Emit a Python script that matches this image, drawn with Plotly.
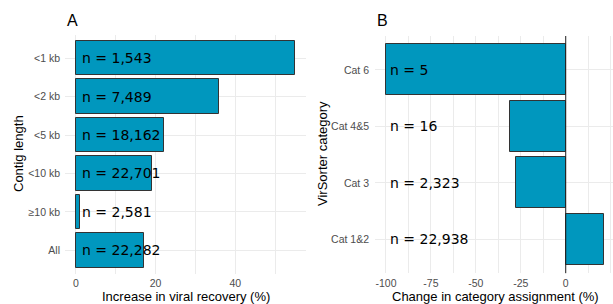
import plotly.graph_objects as go

# Panel A data
len_cats = ["<1 kb", "<2 kb", "<5 kb", "<10 kb", "≥10 kb", "All"]
len_vals = [55.0, 36.0, 22.0, 19.1, 1.1, 17.1]
len_labels = ["n = 1,543", "n = 7,489", "n = 18,162", "n = 22,701", "n = 2,581", "n = 22,282"]
len_ticks = [0, 20, 40]

# Panel B data
vs_cats = ["Cat 6", "Cat 4&5", "Cat 3", "Cat 1&2"]
vs_vals = [-100.0, -31.0, -27.7, 21.5]
vs_labels = ["n = 5", "n = 16", "n = 2,323", "n = 22,938"]
vs_ticks = [-100, -75, -50, -25, 0, 25]

W, H = 613, 304
BAR = "#0097BE"
EDGE = "#333333"
GRID = "#EBEBEB"
TICKC = "#4D4D4D"
SANS = "Liberation Sans, Arial, sans-serif"
NFONT = "DejaVu Sans, sans-serif"

def px_x(p):
    return p / W

def px_y(p):
    return 1 - p / H

fig = go.Figure()

fig.add_trace(go.Bar(
    x=len_vals, y=len_cats, orientation="h", width=0.9,
    marker=dict(color=BAR, line=dict(color=EDGE, width=1)),
    xaxis="x", yaxis="y", showlegend=False, hoverinfo="skip"))

fig.add_trace(go.Bar(
    x=vs_vals, y=vs_cats, orientation="h", width=0.9,
    marker=dict(color=BAR, line=dict(color=EDGE, width=1)),
    xaxis="x2", yaxis="y2", showlegend=False, hoverinfo="skip"))

annotations = []
for c, lab in zip(len_cats, len_labels):
    annotations.append(dict(x=0, y=c, xref="x", yref="y", text=lab, showarrow=False,
                            xanchor="left", yanchor="middle", xshift=4,
                            font=dict(family=NFONT, size=14, color="black")))
for c, lab in zip(vs_cats, vs_labels):
    annotations.append(dict(x=-100, y=c, xref="x2", yref="y2", text=lab, showarrow=False,
                            xanchor="left", yanchor="middle", xshift=2,
                            font=dict(family=NFONT, size=14, color="black")))

# panel titles
annotations.append(dict(x=px_x(65), y=px_y(21), xref="paper", yref="paper", text="A",
                        showarrow=False, xanchor="left", yanchor="middle",
                        font=dict(family=SANS, size=16, color="black")))
annotations.append(dict(x=px_x(375), y=px_y(21), xref="paper", yref="paper", text="B",
                        showarrow=False, xanchor="left", yanchor="middle",
                        font=dict(family=SANS, size=16, color="black")))
# axis titles
annotations.append(dict(x=px_x(185.5), y=px_y(296), xref="paper", yref="paper",
                        text="Increase in viral recovery (%)", showarrow=False,
                        xanchor="center", yanchor="middle",
                        font=dict(family=SANS, size=13, color="black")))
annotations.append(dict(x=px_x(495), y=px_y(296), xref="paper", yref="paper",
                        text="Change in category assignment (%)", showarrow=False,
                        xanchor="center", yanchor="middle",
                        font=dict(family=SANS, size=13, color="black")))
annotations.append(dict(x=px_x(18), y=px_y(154), xref="paper", yref="paper",
                        text="Contig length", showarrow=False, textangle=-90,
                        xanchor="center", yanchor="middle",
                        font=dict(family=SANS, size=13, color="black")))
annotations.append(dict(x=px_x(322), y=px_y(154), xref="paper", yref="paper",
                        text="VirSorter category", showarrow=False, textangle=-90,
                        xanchor="center", yanchor="middle",
                        font=dict(family=SANS, size=13, color="black")))

tickfont = dict(family=SANS, size=10.5, color=TICKC)

fig.update_layout(
    width=W, height=H,
    margin=dict(l=0, r=0, t=0, b=0),
    paper_bgcolor="white", plot_bgcolor="white",
    bargap=0, showlegend=False,
    annotations=annotations,
    xaxis=dict(domain=[px_x(65), px_x(306)], range=[-2.75, 57.75],
               tickvals=len_ticks, ticktext=[str(t) for t in len_ticks],
               ticks="", showline=False, zeroline=False,
               showgrid=True, gridcolor=GRID, gridwidth=1,
               minor=dict(tickvals=[10, 30, 50], showgrid=True, gridcolor=GRID, gridwidth=0.6),
               tickfont=tickfont, anchor="y", ticklabelstandoff=2),
    yaxis=dict(domain=[px_y(273.5), px_y(35)], type="category",
               categoryorder="array", categoryarray=len_cats[::-1],
               range=[-0.6, len(len_cats) - 0.4],
               ticks="", showline=False, zeroline=False,
               showgrid=True, gridcolor=GRID, gridwidth=1,
               tickfont=tickfont, anchor="x", ticklabelstandoff=4),
    xaxis2=dict(domain=[px_x(375), 1.0], range=[-106.1, 26.3],
                tickvals=vs_ticks, ticktext=[str(t) for t in vs_ticks],
                ticks="", showline=False, zeroline=False,
                showgrid=True, gridcolor=GRID, gridwidth=1,
                minor=dict(tickvals=[-87.5, -62.5, -37.5, -12.5, 12.5], showgrid=True,
                           gridcolor=GRID, gridwidth=0.6),
                tickfont=tickfont, anchor="y2", ticklabelstandoff=2),
    yaxis2=dict(domain=[px_y(273.2), px_y(36)], type="category",
                categoryorder="array", categoryarray=vs_cats[::-1],
                range=[-0.6, len(vs_cats) - 0.4],
                ticks="", showline=False, zeroline=False,
                showgrid=True, gridcolor=GRID, gridwidth=1,
                tickfont=tickfont, anchor="x2", ticklabelstandoff=5),
    shapes=[dict(type="line", xref="x2", yref="y2 domain", x0=0, x1=0, y0=0, y1=1,
                 line=dict(color="#222222", width=1), layer="above")],
)

fig.write_html("out.html", config={"displayModeBar": False})

# remove the default page margin so the figure sits at the window's top-left corner
with open("out.html", "r", encoding="utf-8") as f:
    html = f.read()
html = html.replace("<head>", "<head><style>html,body{margin:0;padding:0;overflow:hidden;}</style>", 1)
with open("out.html", "w", encoding="utf-8") as f:
    f.write(html)
